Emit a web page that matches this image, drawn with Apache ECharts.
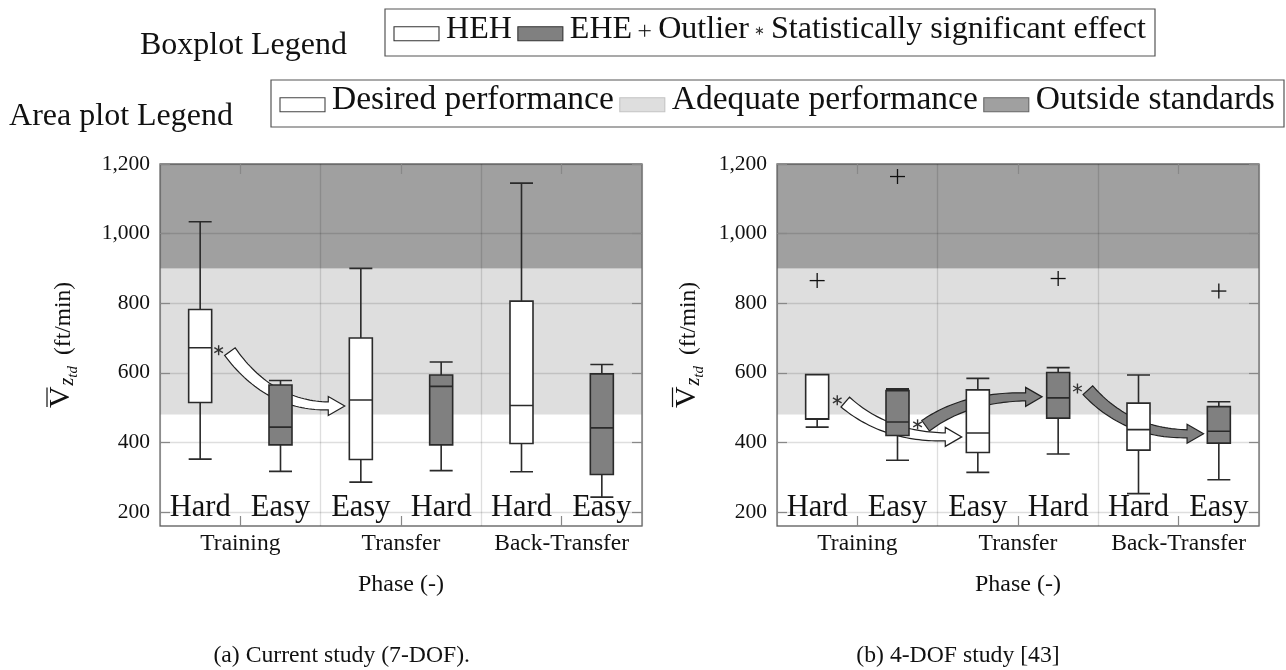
<!DOCTYPE html>
<html>
<head>
<meta charset="utf-8">
<title>Vertical touchdown speed by phase</title>
<script src="https://cdn.jsdelivr.net/npm/echarts@6/dist/echarts.min.js"></script>
<style>
  html, body { margin: 0; padding: 0; background: #fff; }
  #chart { width: 1286px; height: 670px; }
</style>
</head>
<body>
<div id="chart"></div>
<script>
// Phases, and the condition flown in each of the six slots
const phases = ['Training', 'Transfer', 'Back-Transfer'];
const conditions = ['Hard', 'Easy', 'Easy', 'Hard', 'Hard', 'Easy'];
const yTicks = [200, 400, 600, 800, 1000, 1200];
const yRange = [160, 1200];

// Performance bands (ft/min)
const desiredBand = [160, 480];
const adequateBand = [480, 900];
const outsideBand = [900, 1200];

// (a) Current study, 7-DOF  —  [slot, min, Q1, median, Q3, max]
const currentHEH = [
  [0, 352, 515, 672, 782, 1034],
  [2, 286, 351, 522, 700, 900],
  [4, 316, 397, 506, 806, 1145]
];
const currentEHE = [
  [1, 317, 393, 444, 565, 578],
  [3, 319, 393, 561, 594, 631],
  [5, 243, 308, 442, 597, 624]
];
const currentOutliers = [];
// significant changes: [from slot position, from value, to slot position, to value]
const currentChangesHEH = [[0.87, 661, 2.30, 505]];
const currentChangesEHE = [];
const currentSignificant = [[0.73, 665]];

// (b) 4-DOF study [43]
const priorHEH = [
  [0, 444, 467, 468, 595, 595],
  [2, 314, 371, 427, 551, 584],
  [4, 253, 378, 437, 513, 594]
];
const priorEHE = [
  [1, 349, 420, 459, 549, 554],
  [3, 367, 470, 528, 601, 615],
  [5, 293, 398, 432, 503, 517]
];
const priorOutliers = [[0, 865], [1, 1164], [3, 871], [5, 835]];
const priorChangesHEH = [[0.85, 516, 2.30, 416]];
const priorChangesEHE = [[1.85, 448, 3.30, 531], [3.87, 550, 5.31, 425]];
const priorSignificant = [[0.75, 521], [1.75, 452], [3.74, 555]];

// ---------------------------------------------------------------------------
const FAMILY = '"Liberation Serif", "Times New Roman", serif';
const INK = '#111';
const GRID_LINE = 'rgba(0,0,0,0.13)';
const FRAME = '#707070';
const BOX_EDGE = '#2a2a2a';
const EHE_FILL = '#808080';
const ADEQUATE_FILL = '#dedede';
const OUTSIDE_FILL = '#a0a0a0';
const MID = 0.3375;   // canvas 'middle' sits this many em above the baseline

const measureCtx = document.createElement('canvas').getContext('2d');
function textWidth(text, size, style) {
  measureCtx.font = `${style || 'normal'} ${size}px ${FAMILY}`;
  return measureCtx.measureText(text).width;
}
function textEl(text, x, baseline, size, align, style) {
  return {
    type: 'text', x, y: baseline - MID * size, silent: true,
    style: { text, fontSize: size, fontFamily: FAMILY, fontStyle: style || 'normal',
             fill: INK, align: align || 'left', verticalAlign: 'middle' }
  };
}
function lineEl(x1, y1, x2, y2, w, color) {
  return { type: 'line', silent: true, shape: { x1, y1, x2, y2 },
           style: { stroke: color || INK, lineWidth: w || 1.3 } };
}
function plusLines(cx, cy, h, w) {
  return [lineEl(cx - h, cy, cx + h, cy, w), lineEl(cx, cy - h, cx, cy + h, w)];
}
function starLines(cx, cy, r, w) {
  const dx = r * Math.cos(Math.PI / 6), dy = r * 0.5;
  return [lineEl(cx, cy - r, cx, cy + r, w, '#333'),
          lineEl(cx - dx, cy - dy, cx + dx, cy + dy, w, '#333'),
          lineEl(cx - dx, cy + dy, cx + dx, cy - dy, w, '#333')];
}

// ---- render items ---------------------------------------------------------
function bandItem(params, api) {
  const a = api.coord([0, api.value(1)]);
  const b = api.coord([6, api.value(0)]);
  return { type: 'rect', shape: { x: a[0], y: a[1], width: b[0] - a[0], height: b[1] - a[1] },
           style: { fill: api.visual('color') } };
}

// Bent block arrow: quadratic centre line that ends horizontally, tapered shaft
function arrowItem(params, api) {
  const a = api.coord([api.value(0), api.value(1)]);
  const tip = api.coord([api.value(2), api.value(3)]);
  const headLen = 16.5, headHalf = 9.5, w0 = 6.5, w1 = 4;
  const e = [tip[0] - headLen, tip[1]];
  const c = [a[0] + 0.4 * (e[0] - a[0]), e[1]];
  const n = 36, upper = [], lower = [];
  for (let i = 0; i <= n; i++) {
    const t = i / n, m = 1 - t;
    const x = m * m * a[0] + 2 * m * t * c[0] + t * t * e[0];
    const y = m * m * a[1] + 2 * m * t * c[1] + t * t * e[1];
    const dx = 2 * m * (c[0] - a[0]) + 2 * t * (e[0] - c[0]);
    const dy = 2 * m * (c[1] - a[1]) + 2 * t * (e[1] - c[1]);
    const len = Math.hypot(dx, dy) || 1;
    const nx = -dy / len, ny = dx / len, w = w0 + (w1 - w0) * t;
    upper.push([x + nx * w, y + ny * w]);
    lower.push([x - nx * w, y - ny * w]);
  }
  const points = upper.concat([[e[0], e[1] + headHalf], tip, [e[0], e[1] - headHalf]], lower.reverse());
  return { type: 'polygon', shape: { points },
           style: { fill: api.visual('color'), stroke: '#222', lineWidth: 1.2, lineJoin: 'miter' } };
}

function plusItem(params, api) {
  const p = api.coord([api.value(0), api.value(1)]);
  return { type: 'group', children: plusLines(p[0], p[1], 7.5, 1.3) };
}
function starItem(params, api) {
  const p = api.coord([api.value(0), api.value(1)]);
  return { type: 'group', children: starLines(p[0], p[1], 5, 1.4) };
}

// ---- axes -----------------------------------------------------------------
const GRIDS = [
  { left: 160, top: 164, width: 482, height: 362 },
  { left: 777, top: 164, width: 482, height: 362 }
];
const tickStyle = { color: '#888', width: 1.2 };
const grids = [], xAxes = [], yAxes = [];
GRIDS.forEach((g, p) => {
  grids.push(Object.assign({ show: true, borderColor: FRAME, borderWidth: 1.3,
                             backgroundColor: 'transparent', containLabel: false }, g));
  xAxes.push(
    { gridIndex: p, type: 'category', data: phases, position: 'bottom', boundaryGap: true,
      axisLine: { show: false, onZero: false },
      axisTick: { show: true, inside: true, length: 10, alignWithLabel: true, interval: 0, lineStyle: tickStyle },
      axisLabel: { interval: 0, margin: 6, fontSize: 23.5, fontFamily: FAMILY, color: INK },
      splitLine: { show: true, interval: 0, lineStyle: { color: GRID_LINE, width: 1.3 } },
      name: 'Phase (-)', nameLocation: 'middle', nameGap: 46.5,
      nameTextStyle: { fontSize: 24, fontFamily: FAMILY, color: INK } },
    { gridIndex: p, type: 'category', data: phases, position: 'top', boundaryGap: true,
      axisLine: { show: false, onZero: false },
      axisTick: { show: true, inside: true, length: 10, alignWithLabel: true, interval: 0, lineStyle: tickStyle },
      axisLabel: { show: false }, splitLine: { show: false } },
    { gridIndex: p, type: 'category', data: conditions, position: 'bottom', boundaryGap: true,
      axisLine: { show: false, onZero: false }, axisTick: { show: false },
      axisLabel: { inside: true, interval: 0, margin: 3, fontSize: 30.5, fontFamily: FAMILY, color: INK },
      splitLine: { show: false } },
    { gridIndex: p, type: 'value', min: 0, max: 6, show: false }
  );
  yAxes.push(
    { gridIndex: p, type: 'value', min: yRange[0], max: yRange[1], position: 'left',
      axisLine: { show: false },
      axisTick: { show: true, inside: true, length: 10, customValues: yTicks, lineStyle: tickStyle },
      axisLabel: { customValues: yTicks, margin: 10, fontSize: 21.5, fontFamily: FAMILY, color: INK,
                   formatter: v => String(v).replace(/\B(?=(\d{3})+(?!\d))/g, ',') },
      splitLine: { show: true, lineStyle: { color: GRID_LINE, width: 1.3 } } },
    { gridIndex: p, type: 'value', min: yRange[0], max: yRange[1], position: 'right',
      axisLine: { show: false },
      axisTick: { show: true, inside: true, length: 10, customValues: yTicks, lineStyle: tickStyle },
      axisLabel: { show: false }, splitLine: { show: false } }
  );
});

// ---- series ---------------------------------------------------------------
function panelSeries(p, d) {
  const xCat = 4 * p + 2, xVal = 4 * p + 3, yIdx = 2 * p;
  const band = (name, range, color) => ({
    type: 'custom', name, xAxisIndex: xVal, yAxisIndex: yIdx, z: -1, silent: true,
    renderItem: bandItem, itemStyle: { color }, data: [range]
  });
  const boxes = d.heh.map(v => ({ value: v, itemStyle: { color: '#ffffff' } }))
    .concat(d.ehe.map(v => ({ value: v, itemStyle: { color: EHE_FILL } })));
  return [
    band('Desired performance', desiredBand, '#ffffff'),
    band('Adequate performance', adequateBand, ADEQUATE_FILL),
    band('Outside standards', outsideBand, OUTSIDE_FILL),
    { type: 'custom', name: 'HEH change', xAxisIndex: xVal, yAxisIndex: yIdx, z: 2, silent: true,
      renderItem: arrowItem, itemStyle: { color: '#ffffff' }, data: d.changesHEH },
    { type: 'custom', name: 'EHE change', xAxisIndex: xVal, yAxisIndex: yIdx, z: 2, silent: true,
      renderItem: arrowItem, itemStyle: { color: EHE_FILL }, data: d.changesEHE },
    { type: 'boxplot', name: 'HEH / EHE', xAxisIndex: xCat, yAxisIndex: yIdx, z: 3, silent: true,
      boxWidth: [23, 23], encode: { x: 0, y: [1, 2, 3, 4, 5] },
      itemStyle: { borderColor: BOX_EDGE, borderWidth: 1.6 }, emphasis: { disabled: true },
      data: boxes },
    { type: 'custom', name: 'Outlier', xAxisIndex: xCat, yAxisIndex: yIdx, z: 4, silent: true,
      renderItem: plusItem, data: d.outliers },
    { type: 'custom', name: 'Statistically significant effect', xAxisIndex: xVal, yAxisIndex: yIdx,
      z: 4, silent: true, renderItem: starItem, data: d.sig }
  ];
}
const series = panelSeries(0, {
  heh: currentHEH, ehe: currentEHE, outliers: currentOutliers,
  changesHEH: currentChangesHEH, changesEHE: currentChangesEHE, sig: currentSignificant
}).concat(panelSeries(1, {
  heh: priorHEH, ehe: priorEHE, outliers: priorOutliers,
  changesHEH: priorChangesHEH, changesEHE: priorChangesEHE, sig: priorSignificant
}));

// ---- legends, axis titles, captions (graphic layer) -----------------------
function legendBox(x0, x1, top, height, items) {
  const pad = 9, iconGap = 7, itemGap = 6, baseline = top + 31.7;
  const iconTotal = items.reduce((s, it) => s + it.w + iconGap, 0);
  const em = items.reduce((s, it) => s + textWidth(it.label, 100) / 100, 0);
  const room = x1 - x0 - 2 * pad - iconTotal - itemGap * (items.length - 1);
  const size = Math.max(30, Math.min(35, room / em));
  const els = [{ type: 'rect', silent: true, shape: { x: x0, y: top, width: x1 - x0, height },
                 style: { fill: '#fff', stroke: '#555', lineWidth: 1.2 } }];
  let x = x0 + pad;
  items.forEach(it => {
    els.push(...it.draw(x, baseline));
    x += it.w + iconGap;
    els.push(textEl(it.label, x, baseline, size));
    x += textWidth(it.label, size) + itemGap;
  });
  return els;
}
const rectIcon = (fill, stroke) => ({
  w: 45,
  draw: (x, b) => [{ type: 'rect', silent: true, shape: { x, y: b - 14, width: 45, height: 14 },
                     style: { fill, stroke, lineWidth: 1.1 } }]
});
const boxplotLegend = [
  Object.assign({ label: 'HEH' }, rectIcon('#ffffff', '#333')),
  Object.assign({ label: 'EHE' }, rectIcon(EHE_FILL, '#333')),
  { label: 'Outlier', w: 13, draw: (x, b) => plusLines(x + 6.5, b - 10, 6, 1.1) },
  { label: 'Statistically significant effect', w: 9, draw: (x, b) => starLines(x + 4.5, b - 10, 4, 1.1) }
];
const areaLegend = [
  Object.assign({ label: 'Desired performance' }, rectIcon('#ffffff', '#444')),
  Object.assign({ label: 'Adequate performance' }, rectIcon(ADEQUATE_FILL, '#c4c4c4')),
  Object.assign({ label: 'Outside standards' }, rectIcon(OUTSIDE_FILL, '#666'))
];

// V-bar_{z_td} (ft/min), read bottom to top
function yTitle(baselineX, centerY) {
  const parts = [
    { t: 'V', size: 30, style: 'normal', dy: 0, gap: 0 },
    { t: 'z', size: 20, style: 'italic', dy: 3, gap: 1 },
    { t: 'td', size: 15, style: 'italic', dy: 7, gap: 0 },
    { t: '(ft/min)', size: 23.5, style: 'normal', dy: 0, gap: 11 }
  ];
  let x = 0;
  const children = [];
  parts.forEach(pt => {
    x += pt.gap;
    pt.x = x;
    pt.w = textWidth(pt.t, pt.size, pt.style);
    children.push(textEl(pt.t, x, pt.dy, pt.size, 'left', pt.style));
    x += pt.w;
  });
  children.push(lineEl(parts[0].x + 1, -24.5, parts[0].x + parts[0].w - 1, -24.5, 1.2));
  return { type: 'group', x: baselineX, y: centerY + x / 2, rotation: Math.PI / 2, children };
}

const graphics = []
  .concat([textEl('Boxplot Legend', 347, 56, 32, 'right')])
  .concat(legendBox(385, 1155, 9, 47, boxplotLegend))
  .concat([textEl('Area plot Legend', 233, 127, 32, 'right')])
  .concat(legendBox(271, 1284, 80, 47, areaLegend))
  .concat([yTitle(71.5, 345), yTitle(697, 345)])
  .concat([textEl('(a) Current study (7-DOF).', 470, 664, 23.7, 'right'),
           textEl('(b) 4-DOF study [43]', 958, 664, 23.7, 'center')]);

const chart = echarts.init(document.getElementById('chart'), null, { renderer: 'canvas' });
chart.setOption({
  animation: false,
  backgroundColor: '#ffffff',
  textStyle: { fontFamily: FAMILY },
  grid: grids,
  xAxis: xAxes,
  yAxis: yAxes,
  series,
  graphic: { elements: graphics }
});
</script>
</body>
</html>
